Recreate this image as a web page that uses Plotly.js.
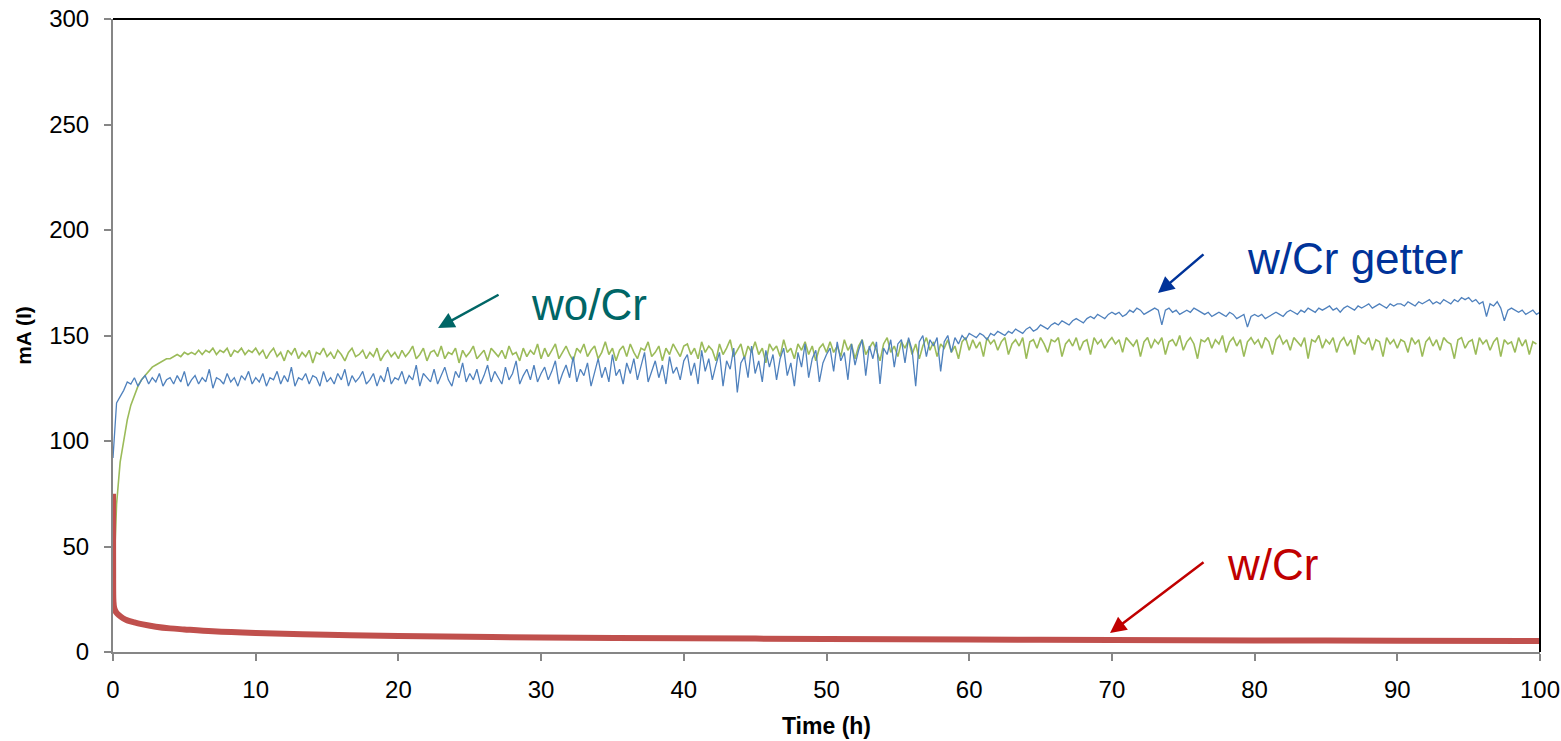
<!DOCTYPE html>
<html>
<head>
<meta charset="utf-8">
<script src="https://cdn.plot.ly/plotly-3.0.1.min.js"></script>
<style>html,body{margin:0;padding:0;background:#fff;}#chart{width:1561px;height:741px;}</style>
</head>
<body>
<div id="chart"></div>
<script>
// ---- data ----
const sampleStep = 0.25; // hours between samples of the noisy series

// w/Cr getter (blue), t = 0 .. 100 h
const getterCurrent = [
92,118,121,124,128,127,130,126,129,131,127,130,128,132,126,129,130,127,131,128,133,126,129,131,127,130,128,134,125,130,129,127,132,128,130,126,131,129,133,127,130,
128,132,126,130,129,133,127,131,128,135,126,130,129,132,127,131,130,126,133,128,130,127,132,129,134,126,131,128,130,133,127,129,132,126,131,128,135,127,130,129,
133,127,131,129,136,126,132,130,128,134,127,131,135,129,126,133,130,137,128,132,129,134,127,131,136,128,133,130,127,135,129,132,138,127,131,134,129,136,128,132,
135,129,133,138,127,132,136,130,140,128,134,131,137,126,133,139,130,135,128,141,131,134,127,137,132,139,129,135,142,128,133,138,130,136,127,140,132,135,129,138,
141,131,137,127,143,133,139,129,136,142,126,138,134,144,123,137,140,130,145,132,138,128,143,135,141,129,139,144,131,137,126,142,135,146,130,139,143,128,137,141,
144,133,147,138,142,129,146,136,143,148,131,145,139,147,127,144,141,148,135,146,
148,137,149,143,126,147,150,140,148,145,149,133,147,150,142,149,146,150,148,151,
150,149,151,150,148,151,150,152,151,150,152,151,153,152,151,153,154,152,153,155,154,153,155,156,155,157,156,155,157,158,157,156,158,159,158,160,159,158,160,161,
160,161,159,160,162,161,163,162,160,161,162,163,162,155,162,163,161,162,160,161,162,161,163,162,161,160,161,159,160,161,160,159,161,160,158,159,160,154,159,160,
159,160,158,159,160,161,160,159,161,162,161,160,162,161,163,162,161,163,162,163,164,162,163,161,163,164,163,162,164,163,164,165,163,164,165,164,163,165,164,165,
165,164,166,165,164,166,165,166,167,165,166,165,167,166,165,167,166,168,167,168,166,167,165,166,159,165,164,166,163,157,162,163,162,161,162,160,161,162,160,161
];

// wo/Cr (green), t = 0 .. 99.75 h
const woCrCurrent = [
25,70,90,101,110,117,122,126,129,131,133,135,136,137,138,139,139,140,141,140,142,141,142,141,143,141,143,142,144,141,143,142,144,140,143,142,144,141,143,142,144,
141,143,139,142,144,140,142,138,143,141,144,139,142,140,143,137,142,141,144,140,142,139,143,141,138,142,144,140,141,143,139,142,140,144,138,141,143,140,142,139,
143,140,142,145,139,141,144,138,142,143,140,145,139,142,141,144,137,143,140,142,145,139,141,143,138,144,142,140,143,139,145,141,142,138,144,140,143,141,146,139,
144,140,143,146,139,142,145,141,138,144,142,146,140,143,145,139,142,147,141,144,138,143,145,140,146,142,139,144,143,147,140,142,145,138,144,141,146,143,140,145,
146,141,144,139,147,142,145,143,138,146,141,144,148,140,143,146,139,145,142,147,141,144,137,146,143,145,140,148,142,144,139,146,143,147,141,145,138,144,146,142,
147,142,145,140,148,143,146,139,145,148,141,144,147,143,138,146,149,142,145,140,147,144,148,141,146,139,145,149,143,147,140,146,144,148,142,145,139,147,149,143,
148,144,147,140,149,146,148,143,147,149,141,146,148,145,149,139,147,148,144,149,146,142,148,147,149,140,146,148,145,149,143,147,148,141,149,146,148,144,147,149,
146,148,142,149,147,145,148,140,147,149,144,148,146,149,141,147,148,145,150,143,147,149,146,139,148,147,149,144,148,146,150,142,147,149,145,148,140,147,149,146,
148,144,149,147,141,148,150,146,148,143,149,147,145,149,139,148,147,150,144,148,146,149,142,147,149,145,148,141,150,147,146,149,143,148,147,140,149,146,148,144,
148,147,142,149,146,148,140,147,149,145,148,143,149,147,146,139,148,149,144,147,148,141,149,146,148,143,147,149,140,148,146,147,142,149,145,148,141,147,146
];

// w/Cr (red)
const wCrTime = [0,0.01,0.03,0.08,0.2,0.4,0.7,1,1.5,2,3,4,5,7,10,15,20,30,40,50,60,70,80,90,100];
const wCrCurrent = [75,40,24,21,19,17.5,16,15,14,13.2,12,11.2,10.7,9.8,9.0,8.2,7.6,6.9,6.5,6.2,5.9,5.7,5.5,5.3,5.2];

const xTicks = [0,10,20,30,40,50,60,70,80,90,100];
const yTicks = [0,50,100,150,200,250,300];

// ---- build ----
const timesFor = arr => arr.map((_, i) => i * sampleStep);

const traces = [
  {x: timesFor(woCrCurrent), y: woCrCurrent, mode: 'lines', name: 'wo/Cr',
   line: {color: '#9BBB59', width: 1.6}, hoverinfo: 'skip'},
  {x: timesFor(getterCurrent), y: getterCurrent, mode: 'lines', name: 'w/Cr getter',
   line: {color: '#4F81BD', width: 1.3}, hoverinfo: 'skip'},
  {x: wCrTime, y: wCrCurrent, mode: 'lines', name: 'w/Cr',
   line: {color: '#C0504D', width: 6, shape: 'spline'}, hoverinfo: 'skip'}
];

const FAM = 'Liberation Sans, Arial, sans-serif';
const tickFont = {family: FAM, size: 24, color: '#000'};
const annFont = (c) => ({family: FAM, size: 44, color: c});

const layout = {
  width: 1561, height: 741,
  margin: {l: 113, r: 21, t: 19, b: 89},
  paper_bgcolor: '#fff', plot_bgcolor: '#fff',
  showlegend: false,
  xaxis: {
    range: [0, 100], tickvals: xTicks, ticktext: xTicks.map(String),
    ticks: 'outside', ticklen: 7, tickwidth: 2, tickcolor: '#868686',
    ticklabelstandoff: 8,
    showline: true, linecolor: '#868686', linewidth: 2,
    showgrid: false, zeroline: false, tickfont: tickFont,
    title: {text: '<b>Time (h)</b>', font: {family: FAM, size: 23, color: '#000'}, standoff: 16}
  },
  yaxis: {
    range: [0, 300], tickvals: yTicks, ticktext: yTicks.map(String),
    ticks: 'outside', ticklen: 7, tickwidth: 2, tickcolor: '#868686',
    ticklabelstandoff: 10,
    showline: true, linecolor: '#868686', linewidth: 2,
    showgrid: false, zeroline: false, tickfont: tickFont,
    title: {text: '<b>mA (I)</b>', font: {family: FAM, size: 21, color: '#000'}, standoff: 12}
  },
  shapes: [
    {type: 'line', xref: 'paper', yref: 'paper', x0: 0, x1: 1, y0: 1, y1: 1, line: {color: '#000', width: 2}},
    {type: 'line', xref: 'paper', yref: 'paper', x0: 1, x1: 1, y0: 0, y1: 1, line: {color: '#000', width: 2}}
  ],
  annotations: [
    {x: 33.36, y: 164.5, text: 'wo/Cr', showarrow: false, font: annFont('#006666'), xanchor: 'center', yanchor: 'middle'},
    {x: 87.04, y: 186.3, text: 'w/Cr getter', showarrow: false, font: annFont('#003399'), xanchor: 'center', yanchor: 'middle'},
    {x: 81.22, y: 41.7, text: 'w/Cr', showarrow: false, font: annFont('#C00000'), xanchor: 'center', yanchor: 'middle'},
    {x: 22.78, y: 153.6, ax: 62, ay: -34, text: '', showarrow: true, arrowhead: 2, arrowsize: 1.3, arrowwidth: 2.5, arrowcolor: '#006666'},
    {x: 73.23, y: 170.1, ax: 47, ay: -40, text: '', showarrow: true, arrowhead: 2, arrowsize: 1.3, arrowwidth: 2.5, arrowcolor: '#003399'},
    {x: 69.87, y: 9.0, ax: 95, ay: -72, text: '', showarrow: true, arrowhead: 2, arrowsize: 1.3, arrowwidth: 2.5, arrowcolor: '#C00000'}
  ]
};

Plotly.newPlot('chart', traces, layout, {displayModeBar: false, staticPlot: true});
</script>
</body>
</html>
